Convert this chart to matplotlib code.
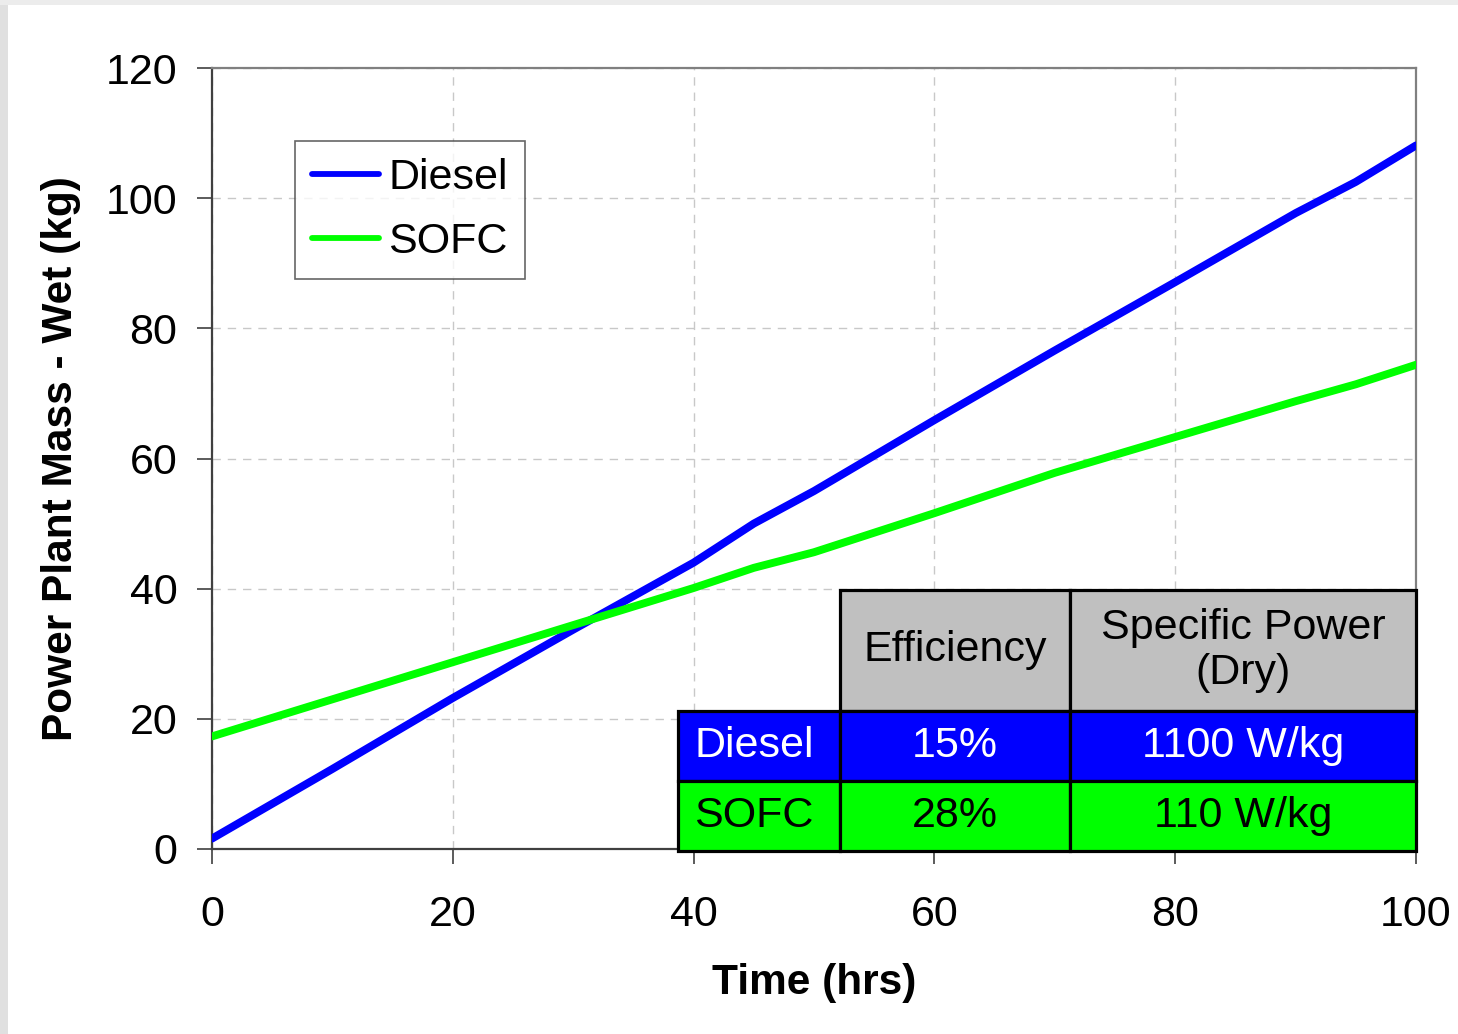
import matplotlib
matplotlib.use("Agg")
import matplotlib.pyplot as plt
from matplotlib.patches import Rectangle

plt.rcParams['font.family'] = ['Liberation Sans', 'DejaVu Sans']

# ---- data ----
time_hrs = [0, 10, 20, 30, 40, 45, 50, 60, 70, 80, 90, 95, 100]
diesel_mass = [1.6, 12.3, 23.2, 33.7, 44.0, 50.0, 55.0, 65.9, 76.6, 87.1, 97.7, 102.5, 108.1]
sofc_mass = [17.3, 23.0, 28.7, 34.4, 40.1, 43.2, 45.6, 51.6, 57.8, 63.3, 68.8, 71.4, 74.4]

x_ticks = [0, 20, 40, 60, 80, 100]
y_ticks = [0, 20, 40, 60, 80, 100, 120]

table_header = ["", "Efficiency", "Specific Power\n(Dry)"]
table_rows = [["Diesel", "15%", "1100 W/kg"],
              ["SOFC", "28%", "110 W/kg"]]
row_colors = ["#0000ff", "#00ff00"]
row_text_colors = ["white", "black"]

BLUE = "#0000ff"
GREEN = "#00ff00"

fig = plt.figure(figsize=(14.58, 10.34), dpi=100)
fig.patch.set_facecolor("white")
# slide background strips
fig.patches.append(Rectangle((0, 0), 8/1458, 1, transform=fig.transFigure,
                             facecolor="#e0e0e0", edgecolor="none", zorder=0))
fig.patches.append(Rectangle((0, 1 - 5/1034), 1, 5/1034, transform=fig.transFigure,
                             facecolor="#ececec", edgecolor="none", zorder=0))

ax = fig.add_axes([212/1458, 1 - 849/1034, (1416-212)/1458, (849-68)/1034])
ax.plot(time_hrs, diesel_mass, color=BLUE, lw=5.7, label="Diesel",
        solid_capstyle="round", solid_joinstyle="round", zorder=3)
ax.plot(time_hrs, sofc_mass, color=GREEN, lw=5.7, label="SOFC",
        solid_capstyle="round", solid_joinstyle="round", zorder=3)

ax.set_xlim(0, 100)
ax.set_ylim(0, 120)
ax.set_xticks(x_ticks)
ax.set_yticks(y_ticks)
ax.grid(True, color="#c8c8c8", linestyle=(0, (6, 5)), lw=1.0, zorder=0)

for s in ["left", "bottom"]:
    ax.spines[s].set_color("#404040")
    ax.spines[s].set_linewidth(1.6)
for s in ["top", "right"]:
    ax.spines[s].set_color("#808080")
    ax.spines[s].set_linewidth(1.6)

ax.tick_params(axis="both", direction="out", length=11, width=1.2, color="#404040",
               labelsize=31)
ax.tick_params(axis="y", pad=14)
ax.tick_params(axis="x", pad=22)

ax.set_xlabel("Time (hrs)", fontsize=30.5, fontweight="bold", labelpad=20)
ax.set_ylabel("Power Plant Mass - Wet (kg)", fontsize=30.5, fontweight="bold", labelpad=18)

leg = ax.legend(loc="upper left", bbox_to_anchor=((295-212)/1204, (849-141)/781),
                fontsize=31, frameon=True, fancybox=False, handlelength=1.55,
                handletextpad=0.22, borderpad=0.4, labelspacing=0.55, borderaxespad=0)
leg.get_frame().set_edgecolor("#404040")
leg.get_frame().set_linewidth(1.2)
for line in leg.get_lines():
    line.set_linewidth(4.2)
    line.set_solid_capstyle("round")

# ---- table ----
cell_text = [table_header] + table_rows
col_w = [162/738, 230/738, 346/738]
row_h = [121, 70, 70]
tbl = ax.table(cellText=cell_text, cellLoc="center",
               bbox=[(678-212)/1204, (849-851)/781, (1416-678)/1204, (851-590)/781],
               zorder=5)
tbl.auto_set_font_size(False)
tbl.set_fontsize(31)
for (r, c), cell in tbl.get_celld().items():
    cell.set_width(col_w[c])
    cell.set_height(row_h[r] / 261)
    cell.set_linewidth(2.3)
    cell.set_edgecolor("black")
    if r == 0:
        if c == 0:
            cell.set_visible(False)
        cell.set_facecolor("#c0c0c0")
        cell.get_text().set_color("black")
    else:
        cell.set_facecolor(row_colors[r-1])
        cell.get_text().set_color(row_text_colors[r-1])
    if c == 0:
        cell.get_text().set_horizontalalignment("left")
        cell.PAD = 0.1
    cell.get_text().set_linespacing(1.15)

fig.savefig("out.png", dpi=100)
